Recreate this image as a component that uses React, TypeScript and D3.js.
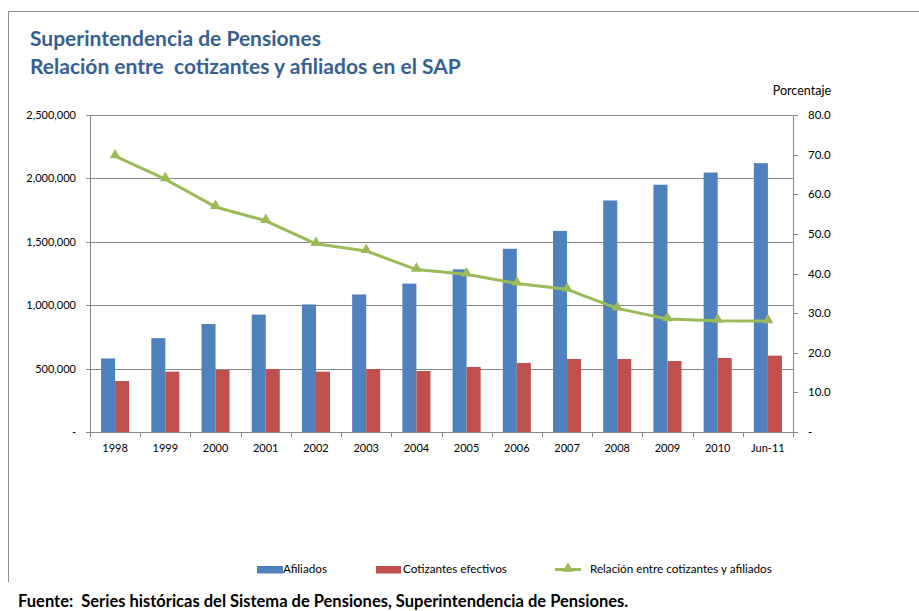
import React from 'react';
import * as d3 from 'd3';

const categories = ['1998', '1999', '2000', '2001', '2002', '2003', '2004', '2005', '2006', '2007', '2008', '2009', '2010', 'Jun-11'];
const afiliados = [580000, 740000, 852000, 926000, 1006000, 1085000, 1170000, 1283000, 1445000, 1586000, 1826000, 1950000, 2046000, 2120000];
const cotizantes = [402000, 476000, 489000, 497000, 476000, 497000, 481000, 513000, 544000, 576000, 576000, 560000, 584000, 602000];
const relacion = [69.6, 63.8, 56.8, 53.3, 47.5, 45.7, 41.0, 39.8, 37.5, 36.0, 31.2, 28.5, 28.1, 28.0];
const leftTicks = [0, 500000, 1000000, 1500000, 2000000, 2500000];
const rightTicks = [0, 10, 20, 30, 40, 50, 60, 70, 80];

const W = 919, H = 611;
const plot = { left: 90, right: 793, top: 115, bottom: 432 };
const font = 'Lato, "Open Sans", sans-serif';

const BLUE = '#4F81BD';
const RED = '#C0504D';
const GREEN = '#9BBB59';
const GRID = '#898989';

const App = () => {
    const x = d3.scaleBand<string>().domain(categories).range([plot.left, plot.right]);
    const xs = d3.scaleBand<string>().domain(['a', 'c']).range([0, x.bandwidth()]).paddingOuter(0.79);
    const yL = d3.scaleLinear().domain([0, 2500000]).range([plot.bottom, plot.top]);
    const yR = d3.scaleLinear().domain([0, 80]).range([plot.bottom, plot.top]);
    const fmt = d3.format(',');

    const line = d3.line<number>()
        .x((d, i) => (x(categories[i]) as number) + x.bandwidth() / 2)
        .y(d => yR(d));

    const tri = d3.symbol().type(d3.symbolTriangle).size(52)();

    const boundaries = categories.map(c => x(c) as number).concat([plot.right]);

    return (
        <svg width={W} height={H} style={{ position: 'absolute', left: 0, top: 0 }} fontFamily={font}>
            <rect width={W} height={H} fill="#fff" />
            {/* frame */}
            <path d={`M8.5,582 V11.5 H${W}`} fill="none" stroke="#8c8c8c" strokeWidth={1} />

            <text x={30} y={46} fontSize={21} fontWeight="bold" fill="#376092">Superintendencia de Pensiones</text>
            <text x={30} y={74} fontSize={21} fontWeight="bold" fill="#376092" style={{ whiteSpace: 'pre' }}>Relación entre  cotizantes y afiliados en el SAP</text>
            <text x={831} y={95} fontSize={12.5} textAnchor="end" fill="#000">Porcentaje</text>

            {/* gridlines */}
            {leftTicks.map(t => (
                <line key={t} x1={plot.left} x2={plot.right} y1={Math.round(yL(t)) + 0.5} y2={Math.round(yL(t)) + 0.5} stroke={GRID} />
            ))}
            {/* left axis */}
            <line x1={plot.left + 0.5} x2={plot.left + 0.5} y1={plot.top} y2={plot.bottom + 5} stroke={GRID} />
            {leftTicks.map(t => (
                <g key={t}>
                    <line x1={plot.left - 4} x2={plot.left} y1={Math.round(yL(t)) + 0.5} y2={Math.round(yL(t)) + 0.5} stroke={GRID} />
                    <text x={76} y={yL(t) + 4} fontSize={11} textAnchor="end">{t === 0 ? '-' : fmt(t)}</text>
                </g>
            ))}
            {/* right axis */}
            <line x1={plot.right + 0.5} x2={plot.right + 0.5} y1={plot.top} y2={plot.bottom + 5} stroke={GRID} />
            {rightTicks.map(t => (
                <g key={t}>
                    <line x1={plot.right} x2={plot.right + 5} y1={Math.round(yR(t)) + 0.5} y2={Math.round(yR(t)) + 0.5} stroke={GRID} />
                    <text x={808} y={yR(t) + 4} fontSize={11.5}>{t === 0 ? '-' : t.toFixed(1)}</text>
                </g>
            ))}

            {/* bars */}
            {categories.map((c, i) => (
                <g key={c}>
                    <rect x={(x(c) as number) + (xs('a') as number)} width={xs.bandwidth()} y={yL(afiliados[i])} height={plot.bottom - yL(afiliados[i])} fill={BLUE} />
                    <rect x={(x(c) as number) + (xs('c') as number)} width={xs.bandwidth()} y={yL(cotizantes[i])} height={plot.bottom - yL(cotizantes[i])} fill={RED} />
                </g>
            ))}

            {/* bottom axis */}
            <line x1={plot.left} x2={plot.right + 1} y1={plot.bottom + 0.5} y2={plot.bottom + 0.5} stroke={GRID} />
            {boundaries.map((b, i) => (
                <line key={i} x1={Math.round(b) + 0.5} x2={Math.round(b) + 0.5} y1={plot.bottom} y2={plot.bottom + 5} stroke={GRID} />
            ))}
            {categories.map(c => (
                <text key={c} x={(x(c) as number) + x.bandwidth() / 2} y={452} fontSize={11} textAnchor="middle">{c}</text>
            ))}

            {/* ratio line */}
            <path d={line(relacion) as string} fill="none" stroke={GREEN} strokeWidth={3} strokeLinejoin="round" />
            {relacion.map((v, i) => (
                <path key={i} d={tri as string} transform={`translate(${(x(categories[i]) as number) + x.bandwidth() / 2},${yR(v) - 1})`} fill={GREEN} />
            ))}

            {/* legend */}
            <rect x={257} y={566} width={26} height={7.5} fill={BLUE} />
            <text x={283} y={573} fontSize={11.7}>Afiliados</text>
            <rect x={376} y={566} width={25} height={7.5} fill={RED} />
            <text x={403} y={573} fontSize={11.7}>Cotizantes efectivos</text>
            <line x1={555} x2={581} y1={569.5} y2={569.5} stroke={GREEN} strokeWidth={3} />
            <path d={tri as string} transform="translate(568,568.5)" fill={GREEN} />
            <text x={590} y={573} fontSize={11.7}>Relación entre cotizantes y afiliados</text>

            <text x={18} y={607} fontSize={16.5} fontWeight="bold" fill="#000" style={{ whiteSpace: 'pre' }}>Fuente:  Series históricas del Sistema de Pensiones, Superintendencia de Pensiones.</text>
        </svg>
    );
};

export default App;
